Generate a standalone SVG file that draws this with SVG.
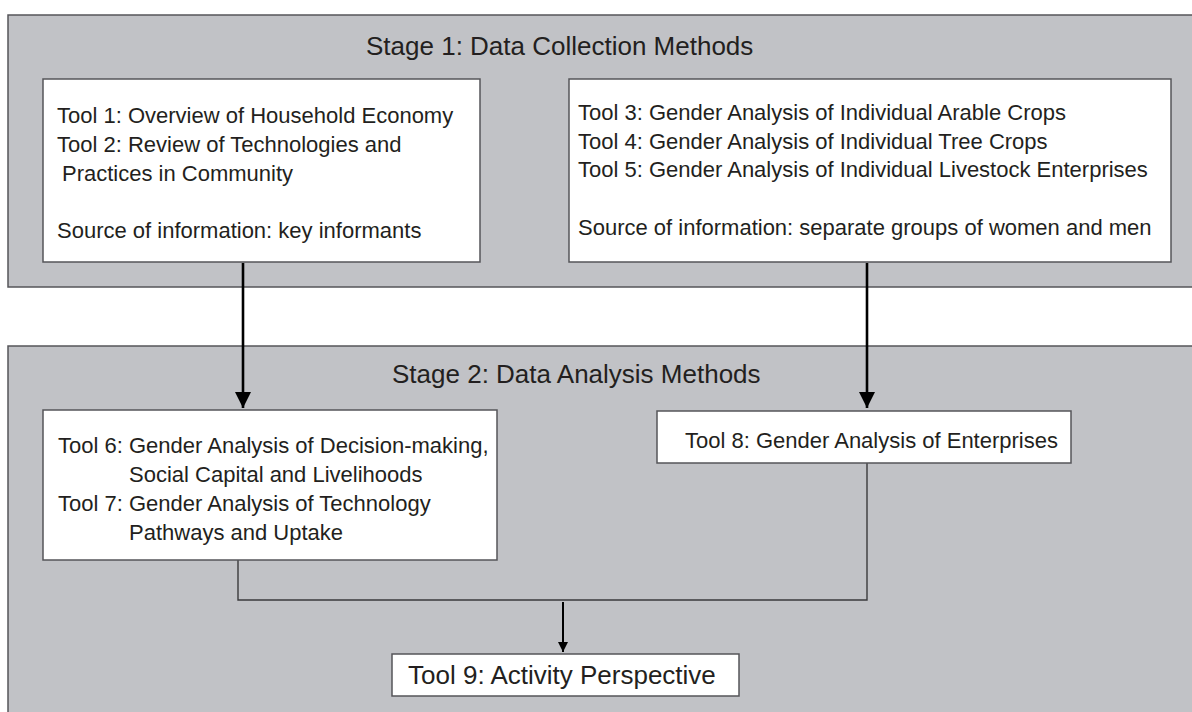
<svg xmlns="http://www.w3.org/2000/svg" width="1192" height="712" viewBox="0 0 1192 712">
  <style>
    .panel { fill: #c1c2c6; stroke: #555559; stroke-width: 1.5; }
    .box { fill: #ffffff; stroke: #555559; stroke-width: 1.5; }
    .title { font-family: "Liberation Sans", Arial, sans-serif; font-size: 26px; fill: #231f20; }
    .body { font-family: "Liberation Sans", Arial, sans-serif; font-size: 22px; fill: #231f20; }
    .thick { fill: none; stroke: #000000; stroke-width: 2.6; }
    .thin { fill: none; stroke: #3a3a3c; stroke-width: 1.4; }
    .mid { fill: none; stroke: #000000; stroke-width: 2; }
  </style>
  <defs>
    <marker id="bigHead" viewBox="0 0 16 16" refX="16" refY="8" markerWidth="16" markerHeight="16" markerUnits="userSpaceOnUse" orient="auto">
      <path d="M0,0 L16,8 L0,16 Z" fill="#000000"/>
    </marker>
    <marker id="smallHead" viewBox="0 0 10 10" refX="10" refY="5" markerWidth="10" markerHeight="10" markerUnits="userSpaceOnUse" orient="auto">
      <path d="M0,0 L10,5 L0,10 Z" fill="#000000"/>
    </marker>
  </defs>

  <!-- Stage 1 panel -->
  <g id="stage1">
    <rect class="panel" x="8" y="15" width="1195" height="272"/>
    <text class="title" x="366" y="55">Stage 1: Data Collection Methods</text>
  </g>

  <!-- Stage 2 panel -->
  <g id="stage2">
    <rect class="panel" x="8" y="346" width="1195" height="380"/>
    <text class="title" x="392" y="383">Stage 2: Data Analysis Methods</text>
  </g>

  <!-- Connectors -->
  <g id="connectors">
    <line class="thick" x1="243" y1="263" x2="243" y2="408" marker-end="url(#bigHead)"/>
    <line class="thick" x1="867" y1="263" x2="867" y2="408" marker-end="url(#bigHead)"/>
    <path class="thin" d="M238,560 V600 H867 V463"/>
    <line class="mid" x1="563" y1="602" x2="563" y2="652" marker-end="url(#smallHead)"/>
  </g>

  <!-- Tools 1-2 -->
  <g id="tools-1-2">
    <rect class="box" x="43" y="79" width="437" height="183"/>
    <text class="body" x="57" y="123">Tool 1: Overview of Household Economy</text>
    <text class="body" x="57" y="152">Tool 2: Review of Technologies and</text>
    <text class="body" x="62" y="181">Practices in Community</text>
    <text class="body" x="57" y="238">Source of information: key informants</text>
  </g>

  <!-- Tools 3-5 -->
  <g id="tools-3-5">
    <rect class="box" x="569" y="79" width="602" height="183"/>
    <text class="body" x="578" y="120">Tool 3: Gender Analysis of Individual Arable Crops</text>
    <text class="body" x="578" y="149">Tool 4: Gender Analysis of Individual Tree Crops</text>
    <text class="body" x="578" y="177">Tool 5: Gender Analysis of Individual Livestock Enterprises</text>
    <text class="body" x="578" y="235">Source of information: separate groups of women and men</text>
  </g>

  <!-- Tools 6-7 -->
  <g id="tools-6-7">
    <rect class="box" x="43" y="410" width="454" height="150"/>
    <text class="body" x="58" y="453">Tool 6:</text>
    <text class="body" x="129" y="453">Gender Analysis of Decision-making,</text>
    <text class="body" x="129" y="482">Social Capital and Livelihoods</text>
    <text class="body" x="58" y="511">Tool 7:</text>
    <text class="body" x="129" y="511">Gender Analysis of Technology</text>
    <text class="body" x="129" y="540">Pathways and Uptake</text>
  </g>

  <!-- Tool 8 -->
  <g id="tool-8">
    <rect class="box" x="657" y="411" width="414" height="52"/>
    <text class="body" x="685" y="448">Tool 8: Gender Analysis of Enterprises</text>
  </g>

  <!-- Tool 9 -->
  <g id="tool-9">
    <rect class="box" x="392" y="654" width="347" height="42"/>
    <text class="title" x="408" y="684">Tool 9: Activity Perspective</text>
  </g>
</svg>
